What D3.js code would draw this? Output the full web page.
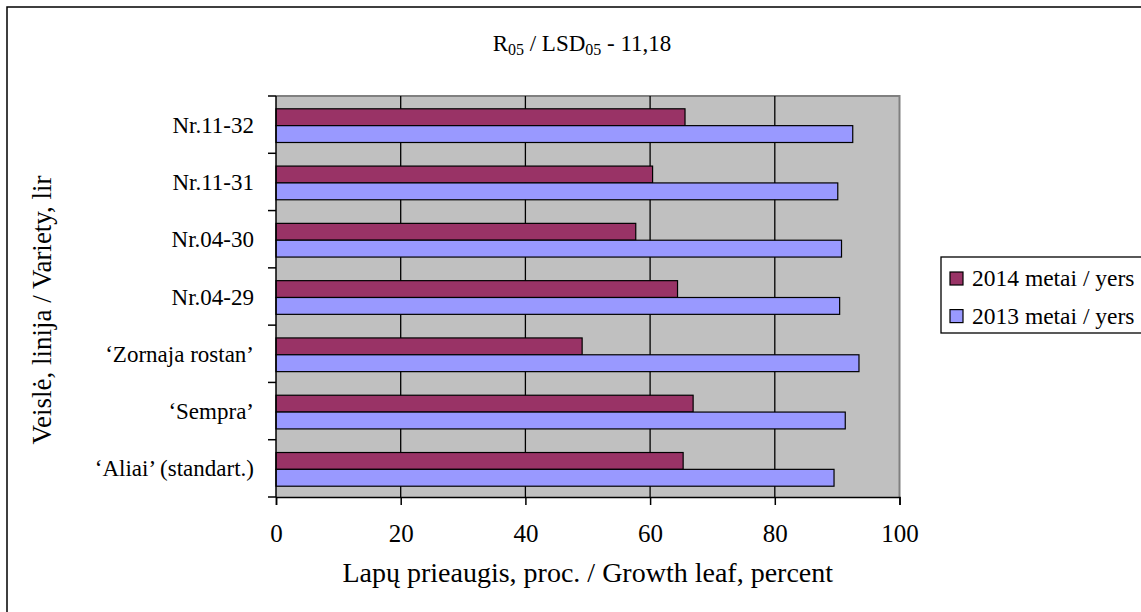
<!DOCTYPE html>
<html>
<head>
<meta charset="utf-8">
<script src="https://cdn.jsdelivr.net/npm/d3@7"></script>
<style>
  html, body { margin: 0; padding: 0; background: #fff; }
  svg { display: block; }
  svg text { font-family: "Liberation Serif", "Times New Roman", serif; fill: #000; }
</style>
</head>
<body>
<svg id="chart" width="1141" height="612"></svg>
<script>
// ---- data ----
const categories = ["Nr.11-32", "Nr.11-31", "Nr.04-30", "Nr.04-29", "\u2018Zornaja rostan\u2019", "\u2018Sempra\u2019", "\u2018Aliai\u2019 (standart.)"];
const seriesNames = ["2014 metai / yers", "2013 metai / yers"];
const values2014 = [65.6, 60.4, 57.7, 64.4, 49.1, 66.9, 65.3];
const values2013 = [92.5, 90.1, 90.7, 90.4, 93.5, 91.3, 89.5];
const xTicks = [0, 20, 40, 60, 80, 100];
const colors = ["#993366", "#9999FF"];

const svg = d3.select("#chart");
const fontSize = 23;

// outer border
svg.append("rect").attr("x", 7).attr("y", 7).attr("width", 1300).attr("height", 800)
  .attr("fill", "#fff").attr("stroke", "#000").attr("stroke-width", 1.5);

const plot = { left: 276, right: 899.5, top: 96, bottom: 497 };

const x = d3.scaleLinear().domain([0, 100]).range([plot.left, plot.right]);
const y = d3.scaleBand().domain(categories).range([plot.top, plot.bottom]).paddingInner(0).paddingOuter(0);
const groupH = y.bandwidth() / 1.7;           // Excel gap width 70%
const groupOff = (y.bandwidth() - groupH) / 2 + 1;
const inner = d3.scaleBand().domain(seriesNames).range([groupOff, groupOff + groupH]);

// plot background
svg.append("rect").attr("x", plot.left).attr("y", plot.top)
  .attr("width", plot.right - plot.left).attr("height", plot.bottom - plot.top)
  .attr("fill", "#C0C0C0");
// plot border (gray) top and right
svg.append("path")
  .attr("d", `M${plot.left},${plot.top}H${plot.right}V${plot.bottom}`)
  .attr("fill", "none").attr("stroke", "#808080").attr("stroke-width", 2);

// gridlines
svg.append("g").selectAll("line").data(xTicks.filter(t => t > 0 && t < 100)).join("line")
  .attr("x1", d => x(d)).attr("x2", d => x(d))
  .attr("y1", plot.top).attr("y2", plot.bottom)
  .attr("stroke", "#000").attr("stroke-width", 1.3);

// bars
const rows = categories.map((c, i) => ({ cat: c, vals: [values2014[i], values2013[i]] }));
const groups = svg.append("g").selectAll("g").data(rows).join("g")
  .attr("transform", d => `translate(0,${y(d.cat)})`);
groups.selectAll("rect").data(d => d.vals.map((v, j) => ({ v, s: seriesNames[j], j }))).join("rect")
  .attr("x", x(0))
  .attr("y", d => inner(d.s))
  .attr("width", d => x(d.v) - x(0))
  .attr("height", inner.bandwidth())
  .attr("fill", d => colors[d.j])
  .attr("stroke", "#000").attr("stroke-width", 1.2);

// y axis (left) with ticks at band boundaries
const yAxisG = svg.append("g");
yAxisG.append("line").attr("x1", plot.left).attr("x2", plot.left)
  .attr("y1", plot.top).attr("y2", plot.bottom).attr("stroke", "#000").attr("stroke-width", 1.5);
const boundaries = categories.map(c => y(c)).concat([plot.bottom]);
yAxisG.selectAll("line.tk").data(boundaries).join("line").attr("class", "tk")
  .attr("x1", plot.left - 8).attr("x2", plot.left).attr("y1", d => d).attr("y2", d => d)
  .attr("stroke", "#000").attr("stroke-width", 1.5);
yAxisG.selectAll("text").data(categories).join("text")
  .attr("x", plot.left - 22).attr("y", d => y(d) + y.bandwidth() / 2 + 8)
  .attr("text-anchor", "end").attr("font-size", fontSize)
  .text(d => d);

// x axis
const xAxis = d3.axisBottom(x).tickValues(xTicks).tickSize(8).tickPadding(19).tickFormat(d3.format("d"));
const xg = svg.append("g").attr("transform", `translate(0,${plot.bottom})`).call(xAxis);
xg.select(".domain").attr("stroke", "#000").attr("stroke-width", 1.5);
xg.selectAll(".tick line").attr("stroke", "#000").attr("stroke-width", 1.5);
xg.selectAll(".tick text").attr("font-size", 25).attr("font-family", "Liberation Serif, serif");

// axis titles
svg.append("text").attr("x", (plot.left + plot.right) / 2).attr("y", 582)
  .attr("text-anchor", "middle").attr("font-size", 28)
  .text("Lapų prieaugis, proc. / Growth leaf, percent");
svg.append("text").attr("transform", "translate(51,310) rotate(-90)")
  .attr("text-anchor", "middle").attr("font-size", 27)
  .text("Veislė, linija / Variety, lir");

// title with subscripts
const title = svg.append("text").attr("x", 582).attr("y", 51).attr("text-anchor", "middle").attr("font-size", fontSize);
title.append("tspan").text("R");
title.append("tspan").attr("font-size", 16).attr("dy", 4).text("05");
title.append("tspan").attr("dy", -4).text(" / LSD");
title.append("tspan").attr("font-size", 16).attr("dy", 4).text("05");
title.append("tspan").attr("dy", -4).text(" - 11,18");

// legend
const lg = svg.append("g");
lg.append("rect").attr("x", 941).attr("y", 257).attr("width", 260).attr("height", 76)
  .attr("fill", "#fff").attr("stroke", "#000").attr("stroke-width", 1.3);
const items = lg.selectAll("g").data(seriesNames).join("g")
  .attr("transform", (d, i) => `translate(950,${272 + i * 37.6})`);
items.append("rect").attr("width", 13).attr("height", 13)
  .attr("fill", (d, i) => colors[i]).attr("stroke", "#000").attr("stroke-width", 1.2);
items.append("text").attr("x", 22).attr("y", 14).attr("font-size", 23.5).text(d => d);
</script>
</body>
</html>
